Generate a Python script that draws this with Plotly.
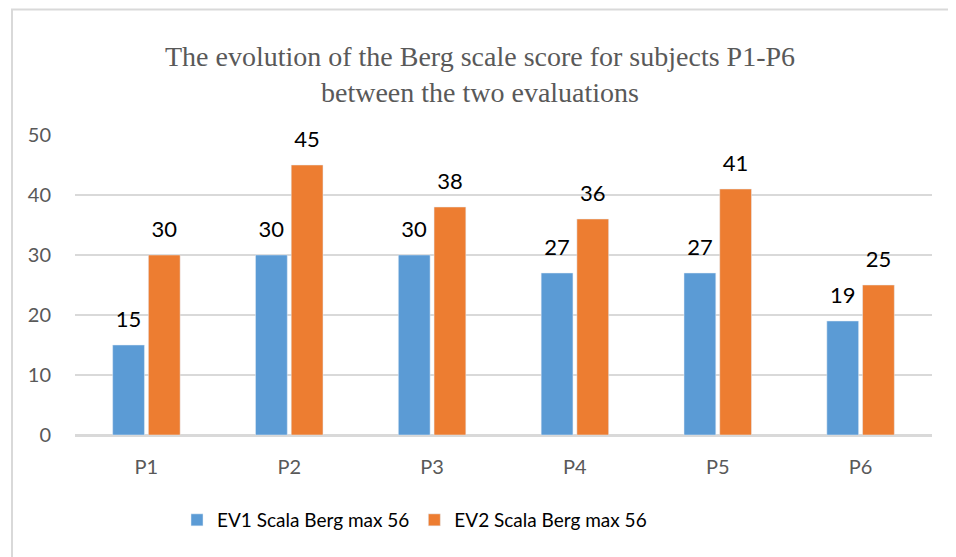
import plotly.graph_objects as go

categories = ["P1", "P2", "P3", "P4", "P5", "P6"]
ev1 = [15, 30, 30, 27, 27, 19]
ev2 = [30, 45, 38, 36, 41, 25]
series_names = ["EV1 Scala Berg max 56", "EV2 Scala Berg max 56"]
title_text = "The evolution of the Berg scale score for subjects P1-P6<br>between the two evaluations"

# page body has an 8px margin, so the figure occupies screen 8..956 x 8..557
OFF = 8
W, H = 956 - OFF, 557 - OFF
ml, mt = 75 - OFF, 135 - OFF
mr = W - (932 - OFF)
mb = H - (435 - OFF)
pw, ph = W - ml - mr, H - mt - mb


def px(xs):
    return (xs - OFF - ml) / pw


def py(ys):
    return (H - mb - (ys - OFF)) / ph


FONT = "Lato"
# small base size + a blank second line lifts the value label off the bar top
label_font = dict(size=10, color="#000000", family=FONT)
label_tpl = "<span style='font-size:22px'>%{y}</span><br>&nbsp;"

fig = go.Figure()
fig.add_trace(go.Bar(x=categories, y=ev1, name=series_names[0], marker_color="#5B9BD5",
                     texttemplate=label_tpl, textposition="outside", cliponaxis=False,
                     textfont=label_font, constraintext="none"))
fig.add_trace(go.Bar(x=categories, y=ev2, name=series_names[1], marker_color="#ED7D31",
                     texttemplate=label_tpl, textposition="outside", cliponaxis=False,
                     textfont=label_font, constraintext="none"))

fig.update_layout(
    width=W, height=H,
    margin=dict(l=ml, r=mr, t=mt, b=mb, autoexpand=False),
    paper_bgcolor="white", plot_bgcolor="white",
    barmode="group", bargap=0.5, bargroupgap=0.11,
    title=dict(text=title_text, x=(480 - OFF) / W, xref="container", xanchor="center",
               y=1 - (66 - OFF) / H, yref="container", yanchor="middle",
               font=dict(family="Liberation Serif", size=28, color="#595959")),
    font=dict(family=FONT),
    showlegend=True,
    legend=dict(orientation="h", x=px(177), xanchor="left", y=py(520), yanchor="middle",
                font=dict(size=19, color="#000000", family=FONT), itemwidth=30,
                traceorder="normal"),
    xaxis=dict(showgrid=False, showline=False, ticks="", ticklabelstandoff=18,
               tickfont=dict(size=20, color="#595959", family=FONT)),
    yaxis=dict(range=[0, 50], dtick=10, showgrid=True, gridcolor="#D9D9D9", gridwidth=1.5,
               zeroline=True, zerolinecolor="#D9D9D9", zerolinewidth=3,
               tickfont=dict(size=20, color="#595959", family=FONT), ticks="",
               ticklabelstandoff=23),
    shapes=[dict(type="rect", xref="paper", yref="paper",
                 x0=px(12), x1=px(980), y0=py(580), y1=py(9.5),
                 line=dict(color="#D9D9D9", width=2), fillcolor="rgba(0,0,0,0)", layer="below")],
)

fig.write_html("out.html")
